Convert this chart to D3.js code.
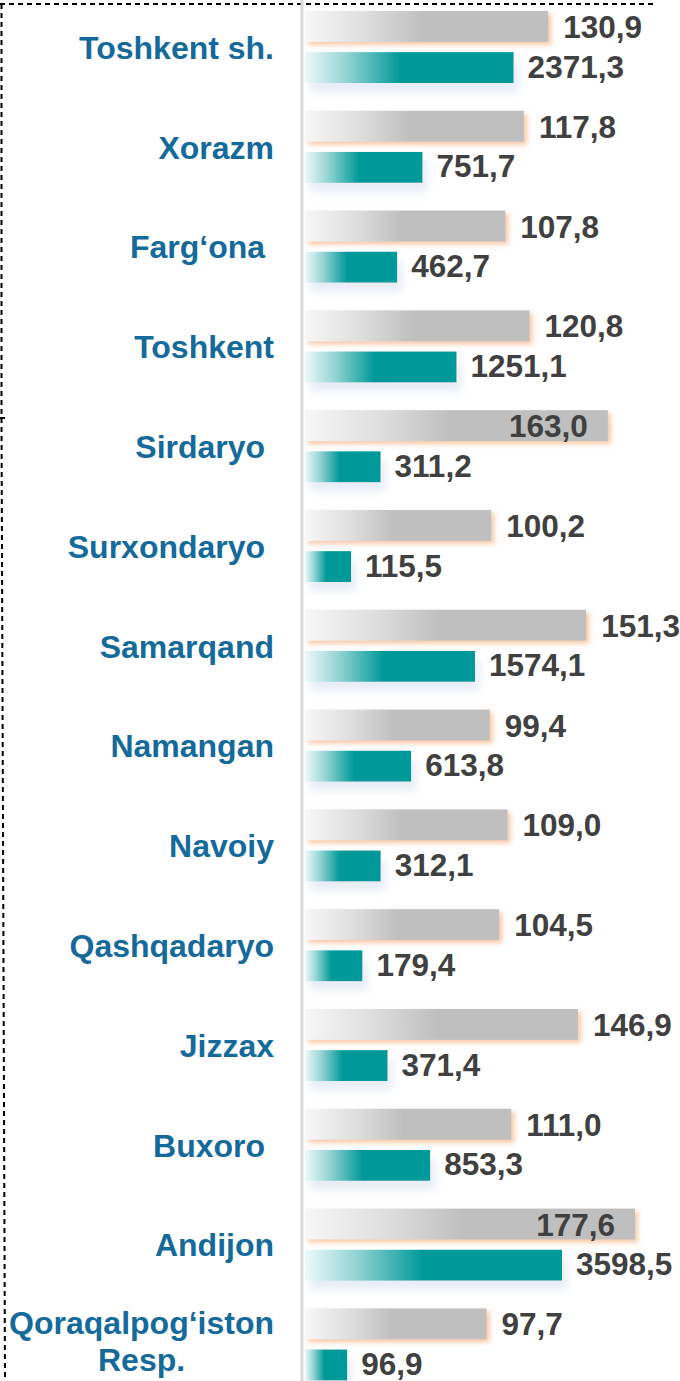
<!DOCTYPE html>
<html>
<head>
<meta charset="utf-8">
<script src="https://cdn.jsdelivr.net/npm/d3@7"></script>
<style>
  html, body { margin: 0; padding: 0; background: #fff; }
  svg { display: block; }
  text { font-family: "Liberation Sans", Arial, sans-serif; font-weight: bold; }
</style>
</head>
<body>
<svg id="chart" width="680" height="1381"></svg>
<script>
// Regions, top to bottom
const regions = [
  "Toshkent sh.", "Xorazm", "Farg\u2018ona\u00A0", "Toshkent", "Sirdaryo\u00A0",
  "Surxondaryo\u00A0", "Samarqand", "Namangan", "Navoiy", "Qashqadaryo",
  "Jizzax", "Buxoro\u00A0", "Andijon", "Qoraqalpog\u2018iston\nResp."
];
// Growth rate, % (gray bars)
const growthRate = [130.9, 117.8, 107.8, 120.8, 163.0, 100.2, 151.3, 99.4, 109.0, 104.5, 146.9, 111.0, 177.6, 97.7];
// Volume (teal bars)
const volume = [2371.3, 751.7, 462.7, 1251.1, 311.2, 115.5, 1574.1, 613.8, 312.1, 179.4, 371.4, 853.3, 3598.5, 96.9];

const fmt = v => v.toFixed(1).replace(".", ",");

const W = 680, H = 1381;
const x0 = 305;                 // bar baseline
const svg = d3.select("#chart");
const defs = svg.append("defs");

// Gradients
const gGray = defs.append("linearGradient").attr("id", "gradGray")
  .attr("x1", 0).attr("x2", 1).attr("y1", 0).attr("y2", 0);
[[0, "#f7f7f7"], [0.25, "#dedede"], [0.48, "#bfbfbf"], [1, "#bfbfbf"]]
  .forEach(([o, c]) => gGray.append("stop").attr("offset", o).attr("stop-color", c));
const gTeal = defs.append("linearGradient").attr("id", "gradTeal")
  .attr("x1", 0).attr("x2", 1).attr("y1", 0).attr("y2", 0);
[[0, "#eef9f9"], [0.2, "#93d3d3"], [0.46, "#009999"], [1, "#009999"]]
  .forEach(([o, c]) => gTeal.append("stop").attr("offset", o).attr("stop-color", c));

// Soft glow behind bars
function glow(id, color, dx, dy, blur, opacity) {
  const f = defs.append("filter").attr("id", id)
    .attr("x", "-10%").attr("y", "-60%").attr("width", "130%").attr("height", "220%");
  f.append("feOffset").attr("in", "SourceAlpha").attr("dx", dx).attr("dy", dy).attr("result", "off");
  f.append("feGaussianBlur").attr("in", "off").attr("stdDeviation", blur).attr("result", "blur");
  f.append("feFlood").attr("flood-color", color).attr("flood-opacity", opacity).attr("result", "col");
  f.append("feComposite").attr("in", "col").attr("in2", "blur").attr("operator", "in").attr("result", "shadow");
  const m = f.append("feMerge");
  m.append("feMergeNode").attr("in", "shadow");
  m.append("feMergeNode").attr("in", "SourceGraphic");
}
glow("glowGray", "#f7b98f", 3, 3, 2.5, 0.8);
glow("glowTeal", "#c9d7ea", 5, 9, 4, 0.45);

// Scales
const y = d3.scaleBand().domain(regions).range([1, 1 + 99.8 * regions.length]);
const ySub = d3.scaleBand().domain(["growth", "volume"]).range([10, 82]).paddingInner(0.25);
const xGrowth = d3.scaleLinear().domain([0, 177.6]).range([x0, x0 + 330]);
const xVolume = d3.scaleSqrt().domain([0, 3598.5]).range([x0, x0 + 257]);

// Dashed frame on the left and top
const frame = svg.append("g").attr("fill", "none").attr("stroke", "#000")
  .attr("stroke-width", 2).attr("stroke-dasharray", "5,4");
frame.append("line").attr("x1", 0).attr("y1", 4).attr("x2", 654).attr("y2", 4);
frame.append("line").attr("x1", 1.5).attr("y1", 4).attr("x2", 1.5).attr("y2", 418);
frame.append("line").attr("x1", 1.5).attr("y1", 418).attr("x2", 5).attr("y2", H);
svg.append("line").attr("x1", 0).attr("x2", 5).attr("y1", 418).attr("y2", 418)
  .attr("stroke", "#000").attr("stroke-width", 2);

// Category axis line
svg.append("line").attr("x1", 302).attr("x2", 302).attr("y1", 0).attr("y2", H)
  .attr("stroke", "#d9d9d9").attr("stroke-width", 3);

const rows = svg.append("g").selectAll("g").data(regions).join("g")
  .attr("transform", d => `translate(0,${y(d)})`);

// Gray bars
rows.append("rect")
  .attr("x", x0).attr("y", ySub("growth"))
  .attr("width", (d, i) => xGrowth(growthRate[i]) - x0)
  .attr("height", ySub.bandwidth())
  .attr("fill", "url(#gradGray)").attr("filter", "url(#glowGray)");

// Teal bars
rows.append("rect")
  .attr("x", x0).attr("y", ySub("volume"))
  .attr("width", (d, i) => xVolume(volume[i]) - x0)
  .attr("height", ySub.bandwidth())
  .attr("fill", "url(#gradTeal)").attr("filter", "url(#glowTeal)");

// Value labels
const valueSize = 31.5;
rows.each(function (d, i) {
  const g = d3.select(this);
  const gy = ySub("growth") + ySub.bandwidth() / 2 + 11.5;
  const gEnd = xGrowth(growthRate[i]);
  const t = g.append("text").attr("font-size", valueSize).attr("fill", "#404040")
    .attr("y", gy).text(fmt(growthRate[i]));
  const tw = t.node().getComputedTextLength();
  if (gEnd + 15 + tw <= W + 1) {
    t.attr("x", gEnd + 15);
  } else {
    t.attr("x", gEnd - 20).attr("text-anchor", "end");
  }
  const vy = ySub("volume") + ySub.bandwidth() / 2 + 10;
  g.append("text").attr("font-size", valueSize).attr("fill", "#404040")
    .attr("x", xVolume(volume[i]) + 14).attr("y", vy).text(fmt(volume[i]));
});

// Category labels
const labelRight = 274, labelSize = 32;
rows.each(function (d) {
  const g = d3.select(this);
  const lines = d.split("\n");
  const mid = y.bandwidth() / 2 - 1;
  if (lines.length === 1) {
    g.append("text").attr("x", labelRight).attr("y", mid + 9)
      .attr("text-anchor", "end").attr("font-size", labelSize).attr("fill", "#146a9b")
      .text(d);
  } else {
    const t = g.append("text").attr("text-anchor", "middle")
      .attr("font-size", labelSize).attr("fill", "#146a9b");
    const spans = lines.map((s, k) => t.append("tspan").attr("y", mid - 13 + k * 37).text(s));
    const maxW = d3.max(spans, s => s.node().getComputedTextLength());
    spans.forEach(s => s.attr("x", labelRight - maxW / 2));
  }
});
</script>
</body>
</html>
